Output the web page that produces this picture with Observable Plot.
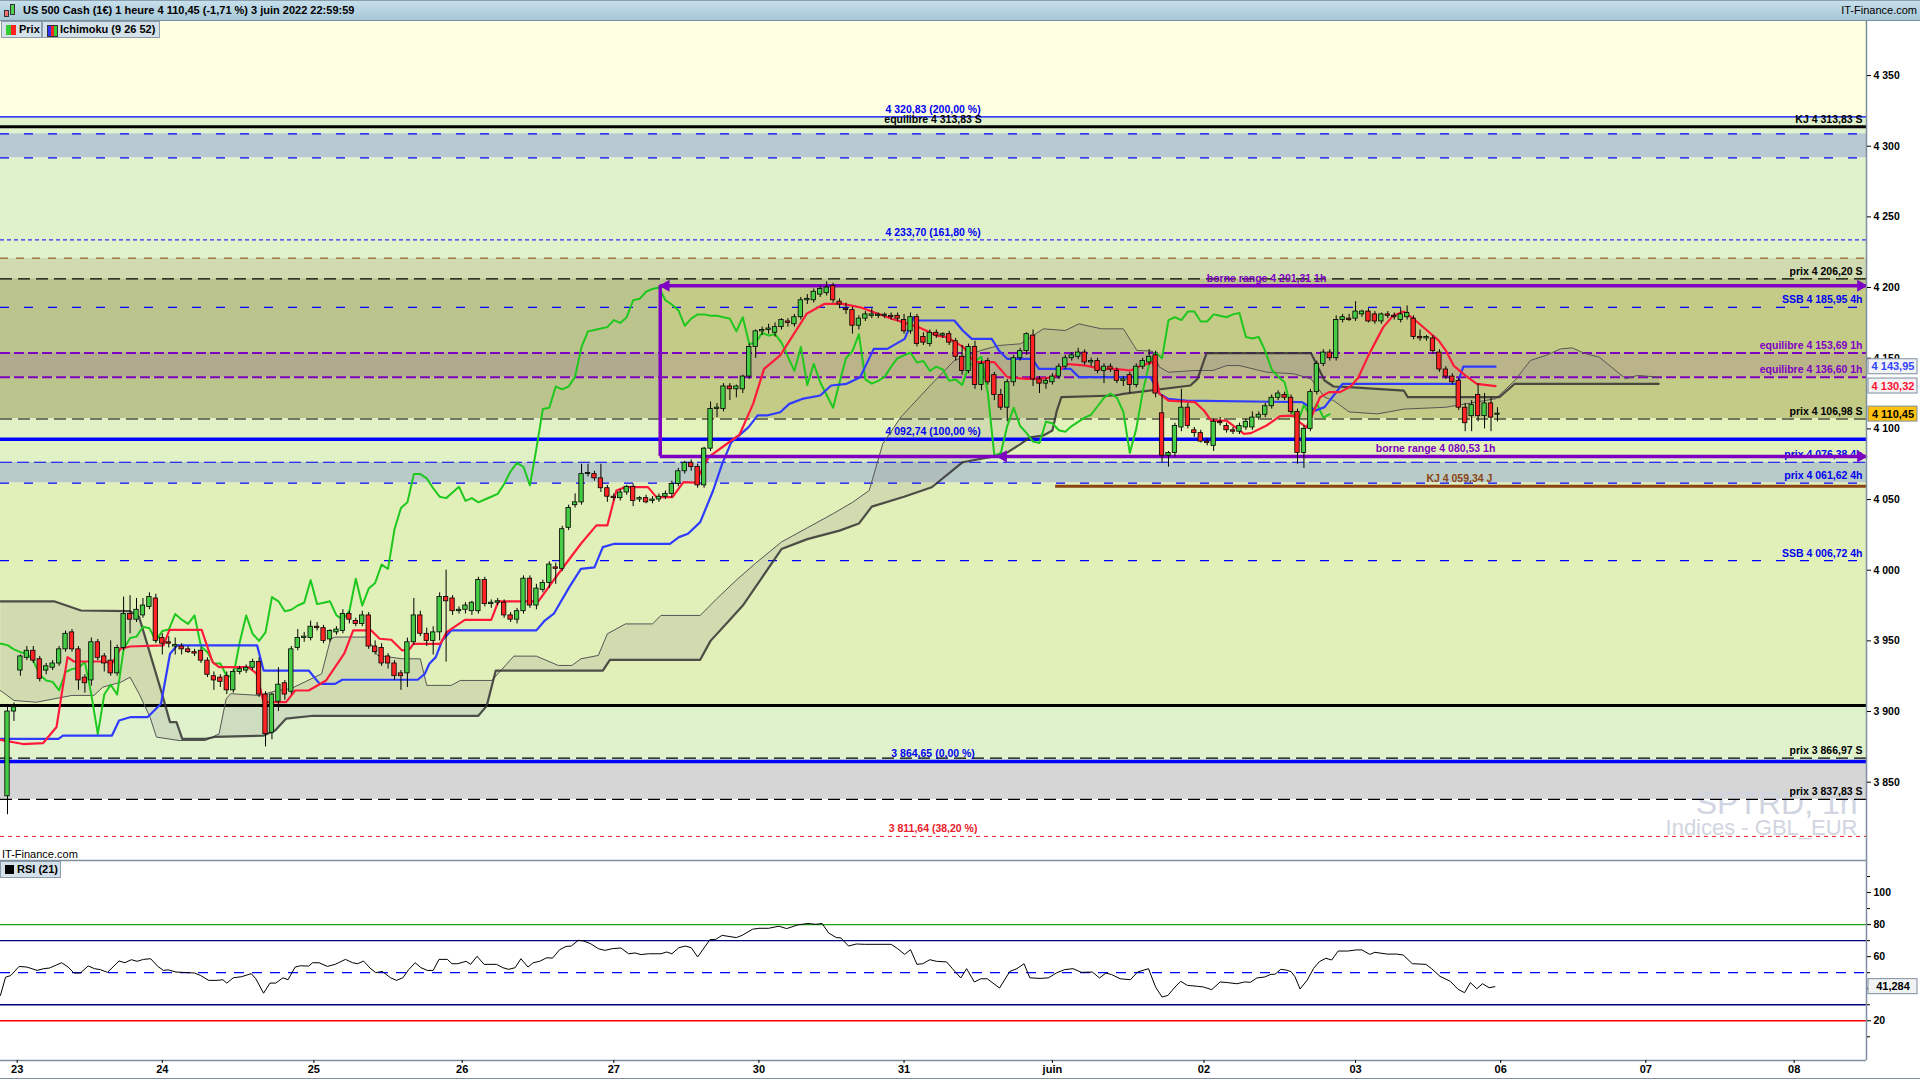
<!DOCTYPE html>
<html><head><meta charset="utf-8">
<script src="https://cdn.jsdelivr.net/npm/d3@7"></script>
<script src="https://cdn.jsdelivr.net/npm/@observablehq/plot@0.6"></script>
<style>
body{margin:0;width:1920px;height:1080px;position:relative;overflow:hidden;background:#fff;font-family:"Liberation Sans",Arial,sans-serif;}
#titlebar{position:absolute;left:0;top:0;width:1920px;height:21px;background:linear-gradient(#c6dfeb,#a7c7d7);border-bottom:1px solid #7a8f9e;border-top:1px solid #8aa0ae;box-sizing:border-box;}
#title{position:absolute;left:23px;top:3px;font:bold 11px "Liberation Sans",Arial,sans-serif;color:#000;white-space:nowrap;}
#brand{position:absolute;right:3px;top:3px;font:11px "Liberation Sans",Arial,sans-serif;color:#000;}
.ico{position:absolute;border:1px solid #333;box-sizing:border-box;}
.btn{position:absolute;height:17px;background:#d5e1ea;border:1px solid #8c9caa;box-sizing:border-box;font:bold 11px "Liberation Sans",Arial,sans-serif;line-height:15px;color:#000;white-space:nowrap;}
#main{position:absolute;left:0;top:20px;}
#rsi{position:absolute;left:0;top:860px;}
#itf{position:absolute;left:2px;top:848px;font:11px "Liberation Sans",Arial,sans-serif;color:#000;}
.hl{position:absolute;left:0;height:0;border-top:1px solid #7d8fa0;}
</style></head>
<body>
<div id="main"></div>
<div id="rsi"></div>
<div id="titlebar">
  <div class="ico" style="left:4px;top:9px;width:5px;height:7px;background:#f07070;"></div>
  <div class="ico" style="left:10px;top:3px;width:5px;height:11px;background:#50d050;"></div>
  <div id="title">US 500 Cash (1€) 1 heure 4 110,45 (-1,71 %) 3 juin 2022 22:59:59</div>
  <div id="brand">IT-Finance.com</div>
</div>
<div class="btn" style="left:1px;top:21px;width:41px;">
  <span style="position:absolute;left:4px;top:3px;width:5px;height:10px;background:#3c3;"></span>
  <span style="position:absolute;left:9px;top:3px;width:5px;height:10px;background:#f22;"></span>
  <span style="position:absolute;left:17px;top:0px;">Prix</span>
</div>
<div class="btn" style="left:42px;top:21px;width:118px;">
  <span style="position:absolute;left:4px;top:3px;width:3px;height:10px;background:#33f;border:1px solid #333;border-right:none"></span>
  <span style="position:absolute;left:8px;top:3px;width:3px;height:10px;background:#f22;border-top:1px solid #333;border-bottom:1px solid #333"></span>
  <span style="position:absolute;left:11px;top:3px;width:3px;height:10px;background:#3c3;border:1px solid #333;border-left:none"></span>
  <span style="position:absolute;left:17px;top:0px;">Ichimoku (9 26 52)</span>
</div>
<div id="itf">IT-Finance.com</div>
<div class="btn" style="left:0px;top:861px;width:61px;">
  <span style="position:absolute;left:4px;top:3px;width:9px;height:9px;background:#000;"></span>
  <span style="position:absolute;left:16px;top:0px;">RSI (21)</span>
</div>
<div class="hl" style="top:1078px;width:1920px;"></div>
<script>
// ---------- DATA ----------
// hourly candles: [open, high, low, close]
const candles = [
[3840,3905,3827,3900],[3900,3906,3893,3903],[3929,3940,3925,3939],[3938,3946,3936,3943],[3943,3946,3934,3936],
[3937,3939,3921,3923],[3929,3934,3926,3932],[3931,3936,3929,3934],[3934,3946,3932,3944],[3944,3957,3942,3955],
[3956,3958,3942,3944],[3944,3946,3915,3922],[3924,3926,3913,3920],[3922,3952,3918,3949],[3949,3951,3936,3938],
[3939,3941,3928,3934],[3936,3950,3925,3927],[3927,3947,3925,3945],[3945,3981,3943,3969],[3969,3982,3955,3965],
[3965,3980,3963,3972],[3968,3980,3966,3975],[3974,3984,3972,3981],[3980,3983,3948,3950],[3952,3955,3940,3948],
[3949,3953,3945,3948],[3946,3952,3940,3947],[3946,3948,3940,3944],[3944,3946,3941,3942],[3942,3944,3939,3941],
[3943,3945,3934,3936],[3936,3938,3924,3926],[3925,3928,3915,3922],[3924,3926,3917,3921],[3925,3928,3912,3915],
[3915,3930,3913,3928],[3928,3932,3926,3930],[3929,3933,3927,3931],[3931,3937,3929,3935],[3935,3938,3910,3912],
[3912,3914,3875,3884],[3885,3913,3880,3912],[3907,3931,3900,3919],[3920,3922,3908,3912],[3914,3946,3912,3944],
[3945,3958,3943,3952],[3952,3956,3949,3953],[3952,3964,3950,3960],[3960,3963,3957,3959],[3959,3961,3948,3950],
[3951,3958,3949,3957],[3956,3960,3954,3958],[3957,3972,3955,3969],[3969,3971,3962,3965],[3964,3966,3960,3962],
[3962,3971,3960,3968],[3968,3970,3944,3946],[3946,3950,3940,3942],[3945,3948,3932,3934],[3939,3941,3930,3934],
[3934,3936,3922,3925],[3927,3929,3915,3925],[3927,3952,3917,3949],[3949,3980,3947,3968],[3968,3971,3953,3955],
[3955,3959,3946,3950],[3950,3960,3940,3956],[3956,3984,3950,3981],[3981,4000,3935,3978],[3980,3982,3968,3971],
[3971,3974,3969,3972],[3972,3977,3969,3975],[3971,3978,3968,3977],[3971,3995,3969,3993],[3993,3995,3974,3976],
[3976,3979,3973,3977],[3977,3980,3975,3978],[3977,3979,3966,3968],[3968,3970,3963,3965],[3965,3973,3962,3971],
[3971,3996,3969,3994],[3994,3996,3973,3975],[3975,3990,3972,3987],[3986,3993,3984,3991],[3991,4006,3987,4004],
[4002,4005,3990,4001],[4001,4031,3999,4029],[4030,4046,4028,4044],[4046,4054,4044,4048],[4048,4075,4046,4068],
[4068,4075,4066,4068],[4068,4070,4063,4065],[4065,4075,4055,4058],[4058,4060,4048,4052],[4052,4054,4049,4051],
[4051,4057,4049,4055],[4055,4060,4053,4059],[4059,4061,4045,4049],[4050,4052,4048,4051],[4051,4053,4047,4048],
[4049,4052,4047,4050],[4050,4054,4048,4052],[4052,4056,4050,4054],[4054,4063,4051,4061],[4061,4072,4059,4070],
[4070,4077,4068,4076],[4076,4078,4070,4073],[4073,4075,4058,4060],[4060,4087,4058,4086],[4086,4119,4084,4114],
[4114,4118,4108,4115],[4114,4132,4112,4130],[4130,4132,4120,4128],[4128,4131,4122,4130],[4128,4138,4125,4137],
[4137,4160,4135,4158],[4158,4170,4150,4169],[4169,4172,4166,4170],[4170,4174,4167,4171],[4168,4175,4165,4172],
[4172,4178,4170,4177],[4176,4178,4172,4175],[4174,4181,4172,4179],[4179,4193,4177,4191],[4191,4195,4188,4192],
[4191,4199,4189,4197],[4195,4201,4193,4199],[4196,4204,4194,4200],[4201,4203,4189,4191],[4190,4192,4185,4188],
[4185,4189,4181,4184],[4184,4186,4167,4173],[4173,4180,4170,4178],[4178,4183,4176,4181],[4180,4185,4178,4181],
[4180,4182,4178,4180],[4180,4182,4178,4180],[4180,4182,4177,4179],[4180,4182,4176,4178],[4177,4181,4167,4169],
[4169,4182,4167,4179],[4179,4181,4158,4160],[4165,4168,4159,4161],[4160,4170,4158,4168],[4168,4170,4164,4166],
[4166,4168,4164,4167],[4167,4169,4159,4161],[4162,4164,4148,4151],[4151,4159,4138,4141],[4141,4160,4139,4158],
[4158,4162,4128,4131],[4131,4148,4127,4146],[4148,4150,4131,4133],[4138,4140,4120,4124],[4124,4128,4113,4115],
[4115,4135,4105,4133],[4133,4152,4130,4150],[4150,4157,4148,4155],[4155,4168,4152,4167],[4166,4170,4130,4135],
[4135,4137,4125,4132],[4132,4136,4128,4134],[4133,4139,4131,4137],[4137,4146,4135,4144],[4144,4152,4142,4150],
[4150,4154,4148,4152],[4151,4157,4149,4154],[4154,4156,4145,4147],[4147,4150,4144,4148],[4148,4150,4139,4141],
[4141,4146,4132,4144],[4144,4146,4140,4142],[4141,4143,4132,4134],[4134,4137,4130,4135],[4138,4140,4125,4131],
[4131,4146,4129,4144],[4144,4150,4142,4148],[4147,4156,4145,4151],[4152,4155,4122,4125],[4111,4124,4076,4081],
[4081,4084,4073,4083],[4083,4104,4080,4102],[4101,4128,4098,4115],[4115,4118,4100,4102],[4099,4101,4094,4097],
[4097,4099,4090,4091],[4091,4093,4088,4090],[4088,4107,4084,4105],[4105,4108,4102,4104],[4102,4104,4097,4099],
[4099,4101,4096,4098],[4098,4104,4096,4102],[4101,4107,4099,4105],[4101,4112,4099,4108],[4108,4112,4106,4110],
[4110,4118,4108,4116],[4116,4124,4114,4122],[4122,4127,4120,4125],[4124,4126,4120,4122],[4122,4124,4110,4112],
[4112,4114,4075,4083],[4083,4102,4072,4100],[4100,4128,4098,4126],[4126,4148,4124,4146],[4146,4156,4144,4154],
[4154,4156,4148,4150],[4150,4180,4148,4177],[4177,4181,4175,4179],[4178,4181,4176,4177],[4178,4190,4176,4183],
[4181,4184,4179,4183],[4183,4185,4175,4176],[4181,4183,4174,4176],[4176,4182,4174,4181],[4181,4183,4178,4180],
[4180,4182,4177,4179],[4177,4185,4175,4181],[4179,4187,4177,4182],[4178,4180,4163,4165],[4165,4170,4162,4164],
[4164,4166,4162,4165],[4164,4166,4153,4155],[4154,4156,4140,4142],[4142,4144,4135,4137],[4137,4139,4131,4133],
[4134,4136,4113,4115],[4115,4118,4098,4104],[4109,4120,4098,4117],[4124,4132,4105,4109],[4109,4125,4100,4118],
[4118,4122,4098,4108],[4110,4115,4105,4110.45]
];
// Ichimoku lines: [bar index, value]
const tenkan = [[-1.1,3880],[2.4,3877],[5.5,3877.6],[7.6,3889],[9.3,3938.5],[10.3,3935.4],[15.2,3935.4],[16.2,3933.8],[17.5,3944.4],[19,3946],[24.2,3946.8],[25.1,3957.8],[30.1,3957.8],[31.8,3935],[32.8,3931.4],[37.3,3931.4],[38.6,3927],[39.7,3906.7],[43.2,3906.7],[44.6,3914.9],[46.7,3914.9],[49.4,3922],[52.2,3940.9],[53.6,3957.4],[56.4,3957.4],[57.7,3951.5],[59.5,3950.8],[61.2,3943.2],[62.4,3944.4],[62.9,3947.9],[67.1,3947.9],[68.1,3956.2],[70.9,3964.9],[75,3964.9],[76.1,3977.9],[82.3,3977.9],[85.4,3997.5],[88.9,4018.7],[91.3,4031.7],[93,4031.7],[94.4,4056.4],[95.8,4058.8],[99.3,4058.8],[100.6,4051.7],[103.1,4051.7],[104.8,4062.3],[106.6,4062],[108.7,4080],[110.8,4087],[113.5,4096],[115.6,4117.7],[117.3,4142.5],[119.8,4152],[123.9,4181.4],[126.7,4188.5],[129.5,4188.5],[132.2,4186],[137.1,4177.9],[141.2,4172],[144,4166],[145.7,4164.9],[148.2,4157.8],[149.9,4147.2],[153,4147.2],[155,4136.6],[157.8,4135.4],[159.9,4135.4],[162.3,4136.6],[164,4146],[167.2,4144.8],[169.6,4142.5],[171.7,4142.5],[174.1,4141.3],[175.8,4144.8],[177.6,4147.2],[178.2,4134.2],[178.6,4124.8],[180,4120],[184.1,4118.9],[185.5,4113],[186.6,4105.9],[189,4105.9],[190.4,4101],[191.7,4096.5],[192.8,4097],[195.2,4102.4],[197.3,4109],[199.4,4109.4],[200,4105.9],[201.4,4101],[202.1,4108],[203.5,4122.4],[204.9,4126],[206.6,4126],[208.2,4130],[209.4,4136],[211,4152],[213.3,4172],[214.8,4180],[216.5,4183],[218.3,4176.7],[220.1,4169.6],[221.9,4162.5],[223,4155.4],[224.2,4144.8],[226,4137.8],[227.8,4131.9],[230.7,4130.3]];
const kijun = [[-1.1,3880.7],[7.9,3880.7],[8.6,3883],[16.2,3883],[17.3,3893.7],[19,3896],[21.7,3896],[23.8,3905.5],[25.2,3940.9],[26.3,3946.8],[38.7,3946.8],[39.7,3929],[46.7,3929],[48.4,3919.6],[50.8,3919.6],[51.9,3922.5],[63.6,3922.5],[64.7,3926.7],[65.4,3933.8],[66.4,3938.5],[67.4,3950.3],[68.8,3957.4],[82,3957.4],[83.3,3964.4],[84.7,3969.2],[87.1,3988],[88.9,4001],[91,4002],[92.3,4016.3],[94.1,4018.7],[102.7,4018.7],[104.1,4023.4],[105.5,4025.8],[107.4,4034],[109.4,4056.4],[110.8,4075.2],[112.2,4090.5],[114.9,4101.2],[116.3,4109.5],[117.7,4109.5],[119.8,4111.8],[121.2,4117.7],[123.2,4121.2],[126,4123.6],[127.7,4130.7],[130.1,4131.9],[132.2,4136.6],[134.3,4156.6],[136.4,4156.6],[139.1,4163.7],[140.5,4179],[141.2,4176.7],[146.8,4176.7],[148.1,4169.6],[149.5,4163.7],[152.6,4163.7],[153.7,4155.5],[155,4149.6],[158.9,4149.6],[159.9,4142.5],[164.8,4142.5],[166.1,4136.6],[177.2,4136.6],[178.6,4124.8],[180,4121.2],[182.7,4120],[200.7,4118.9],[202.8,4113],[204.2,4115.4],[205.6,4123.6],[207,4131.9],[224.8,4131.9],[225.7,4144],[230.7,4144]];
const ssb = [[-1.1,3978],[7.2,3978],[11.4,3971.5],[19,3971],[20.4,3967],[23.8,3915],[25.2,3892.5],[26.2,3892.5],[27.1,3880.7],[30.7,3880.7],[32.1,3882],[39.7,3883],[41.5,3886.6],[43.2,3895],[47.4,3897],[73,3897],[74.3,3904],[75.7,3929],[92.3,3929],[93.4,3936.6],[107.4,3936.6],[109,3950],[112,3965],[114,3975],[117,3995],[120,4015],[124,4022],[129,4028],[132,4033],[134,4045],[139,4052],[143.3,4058.7],[148.1,4076.4],[152.3,4080],[155.1,4083.5],[157.1,4089.4],[158.5,4094],[160.6,4095.3],[162,4098.8],[162.7,4113],[163.4,4122.4],[171.7,4123.6],[173,4124.8],[183.4,4130.7],[184.5,4135.4],[185.9,4153.6],[202.1,4153.6],[204.2,4134.2],[205.6,4130],[208,4129.5],[216.5,4127],[217.1,4122.4],[231.3,4122.4],[233.7,4131.9],[256,4131.9]];
const ssa = [[-1.1,3914.9],[1,3907.8],[4.5,3906.6],[10,3911.4],[13.4,3911.4],[14.8,3917.3],[17.6,3920.8],[19,3924.3],[20.4,3912.6],[22.1,3896],[23.1,3881.9],[26.6,3879.5],[30.7,3879.5],[32.8,3884.2],[33.9,3909],[34.6,3912.6],[39.1,3911.4],[41.8,3914.9],[43.9,3916.1],[48.7,3926.7],[50.1,3951.5],[50.8,3952.7],[55.7,3952.7],[57.4,3939.7],[61.2,3937.3],[64,3937.3],[65,3918.5],[68.8,3918.5],[70.2,3922],[75.1,3922],[78.5,3939.2],[82,3939.2],[85.4,3932.6],[87.5,3932.6],[88.9,3937.3],[91.6,3939.7],[93,3955],[95.8,3962],[100,3962],[101.3,3968],[107.4,3968],[110,3980],[113,3993],[116,4005],[120,4020],[124,4030],[128,4040],[131,4048],[133.6,4056.4],[135.7,4089.4],[138.5,4108.3],[143.3,4131.9],[146.8,4148.4],[150.9,4155.5],[153.7,4159],[157.1,4160.2],[160.6,4170.8],[164,4169.6],[166.1,4174.3],[169.6,4170.8],[173,4170.8],[175.1,4155.5],[177.5,4155],[178.6,4143.7],[180,4140.1],[184.1,4141.3],[186.9,4141.3],[189,4144.8],[191,4144.8],[195.2,4140.1],[199.4,4139],[202.1,4135.4],[204.2,4122.4],[205.6,4120],[208,4112],[212.4,4110.6],[216.5,4114],[223,4115.3],[230.7,4121.3],[233.7,4134.2],[236.1,4148.4],[238.5,4152],[240.8,4156.6],[242.6,4157.3],[244.4,4153.6],[246.8,4150.7],[250.9,4135.4],[252.7,4137.8],[256,4136.6]];
// RSI(21): [bar index, value]
const rsi = [[-1.1,35.8],[-0.3,47.2],[0.5,48.2],[1.8,53.9],[3,53.5],[4.6,51.4],[5.6,52.5],[6.5,52.9],[8.4,56.2],[9.4,53.5],[10.3,49.8],[11.3,49.8],[12.5,54.2],[13.5,52.5],[14.4,51.9],[15.5,50.2],[17.3,57.3],[18.2,56.2],[19.2,58.1],[20.1,57.1],[21.1,58.3],[22.2,58.7],[23.3,53.9],[24.2,51.4],[24.9,51.8],[26.1,50.4],[29,49.8],[29.9,48.3],[31.2,45.2],[32.5,45.2],[33.4,45.6],[34,43.5],[35,46.8],[36.3,47.5],[37.8,49.4],[38.5,46.2],[39.7,37.2],[40.7,43.5],[41.6,43.5],[42.7,46.8],[43.5,45.6],[44.6,53.5],[45.4,54.3],[46.7,54.1],[47.3,56.2],[48.3,56.2],[49.6,53.9],[50.8,55.2],[52.4,58.3],[53.5,56.2],[54.3,55.6],[55.2,57.3],[56.2,52.9],[57.1,50],[58.1,50.8],[59.4,46.8],[60.3,45.2],[61.3,46.8],[62.2,51.9],[63.2,56.2],[64.1,53.1],[65.1,51.4],[66,51.4],[66.9,58.3],[68.2,58.3],[68.9,55.6],[69.8,55.6],[71.1,57.1],[71.8,55.2],[72.8,60.2],[73.9,55.2],[75.8,55.2],[76.8,53.1],[77.7,52.1],[78.7,53.1],[79.6,58.7],[80.7,53.5],[81.5,56.2],[82.5,57.1],[83.6,59.3],[84.5,59.1],[85.6,64.3],[86.6,66.4],[87.4,66.6],[88.5,70.2],[89.3,69.8],[90.4,68.1],[91.6,65],[92.6,63.9],[93.8,65],[95.1,65.4],[96.3,61.8],[97.3,62.3],[98.2,61.3],[99.4,61.8],[101.3,61.8],[102.2,62.9],[103,61.8],[104.1,65.6],[105.1,66.6],[106,65.6],[107,59.8],[108.9,70.6],[109.8,70.8],[110.8,73.3],[111.7,72.7],[113,71.9],[113.9,73.3],[115.5,77.1],[116.5,77.7],[118,77.7],[119.6,79],[120.8,77.5],[122.5,79.8],[124.1,80.7],[125.3,80.2],[126.3,80.7],[127.3,74.8],[128.5,71.9],[129.2,71.7],[130.4,66.6],[131.6,67.9],[132.9,67.7],[137,67.7],[138,65],[139.1,61.4],[140,64.4],[141,55.2],[141.9,55.6],[143,58.1],[144,57.1],[145.6,56.7],[146.5,52.5],[147.8,46.7],[148.7,52.5],[149.9,44.2],[150.9,46.2],[151.9,46.2],[153.8,40.4],[155.4,50.8],[156.5,52.5],[157.6,55.6],[158.5,46.8],[160.1,46.4],[161.4,46.8],[162.7,50],[163.9,51.9],[165.2,52.5],[166.5,50.2],[168.2,50.4],[169.3,46.7],[170.3,49.8],[171.2,48.8],[172.5,46.2],[174.1,45.6],[175.2,50.4],[176.9,52.5],[178,41],[179,34.8],[179.9,35.8],[181,41],[181.9,44.6],[182.9,42.1],[184.5,41.5],[185.4,41.1],[186.7,39.4],[188,44.2],[189.2,43.8],[190.6,43.1],[191.8,44.2],[192.7,44],[193.7,46.7],[194.9,47.3],[195.9,49],[196.5,49],[197.4,52.1],[198.3,51.6],[199,50.6],[199.6,47.5],[200.4,39.8],[201.5,45.4],[202.5,52.7],[203.4,56.9],[204.4,59],[205.3,57.9],[206.3,63.5],[207.8,63.5],[209.1,64.2],[210,64.2],[211.2,61.4],[212,62.7],[213.9,61.6],[215.4,61.6],[216.4,61],[217.8,55.6],[219.9,55.2],[220.8,52.5],[222.1,47.7],[223.7,44.6],[224.9,39.6],[225.9,37.5],[226.8,43.8],[227.8,40],[228.7,43.1],[229.7,40.6],[230.6,41.284]];
const rsiLevels = [[80,"ob"],[70,"hi"],[50,"mid"],[30,"lo"],[20,"os"]];
const rsiTicks = [20,60,80,100];
const rsiMinorTicks = [10,30,40,50,70,90,110];
// day ticks: [bar index, label]
const dayTicks = [[1.5,"23"],[24,"24"],[47.5,"25"],[70.5,"26"],[94,"27"],[116.5,"30"],[139,"31"],[162,"juin"],[185.5,"02"],[209,"03"],[231.5,"06"],[254,"07"],[277,"08"]];
const priceTicks = [3850,3900,3950,4000,4050,4100,4150,4200,4250,4300,4350];
// horizontal levels
const levels = [
 {v:4320.83,kind:"fibo"},{v:4313.83,kind:"eqS"},{v:4308.8,kind:"b4h"},{v:4291.8,kind:"b4h"},
 {v:4233.70,kind:"fiboDash"},{v:4220.8,kind:"brownDash"},{v:4206.20,kind:"prixS"},{v:4185.95,kind:"b4h"},
 {v:4153.69,kind:"eq1h"},{v:4136.60,kind:"eq1h"},{v:4106.98,kind:"prixS"},{v:4092.74,kind:"fiboThick"},
 {v:4076.38,kind:"p4h"},{v:4061.62,kind:"b4h"},{v:4006.72,kind:"b4h"},{v:3904.3,kind:"black"},
 {v:3866.97,kind:"prixS"},{v:3864.65,kind:"fiboThick"},{v:3837.83,kind:"prixS"},{v:3811.64,kind:"fiboRed"}
];
const zones = [
 {top:4400,bottom:4320.83,kind:"cream"},{top:4320.83,bottom:4308.8,kind:"mint"},{top:4308.8,bottom:4291.8,kind:"slate"},
 {top:4291.8,bottom:4220.8,kind:"mint"},{top:4220.8,bottom:4206.2,kind:"sage"},{top:4206.2,bottom:4106.98,kind:"olive"},
 {top:4153.69,bottom:4136.6,kind:"taupe"},{top:4106.98,bottom:4076.38,kind:"pale"},{top:4076.38,bottom:4061.62,kind:"slate2"},
 {top:4061.62,bottom:3904.3,kind:"lime"},{top:3904.3,bottom:3864.65,kind:"mint"},{top:3864.65,bottom:3837.83,kind:"grey"}
];
const rightLabels = [
 {v:4313.83,text:"KJ 4 313,83 S",kind:"black"},{v:4206.20,text:"prix 4 206,20 S",kind:"black"},
 {v:4185.95,text:"SSB 4 185,95 4h",kind:"blue"},{v:4153.69,text:"equilibre 4 153,69 1h",kind:"purple"},
 {v:4136.60,text:"equilibre 4 136,60 1h",kind:"purple"},{v:4106.98,text:"prix 4 106,98 S",kind:"black"},
 {v:4076.38,text:"prix 4 076,38 4h",kind:"blue"},{v:4061.62,text:"prix 4 061,62 4h",kind:"blue"},
 {v:4006.72,text:"SSB 4 006,72 4h",kind:"blue"},{v:3866.97,text:"prix 3 866,97 S",kind:"black"},
 {v:3837.83,text:"prix 3 837,83 S",kind:"black"}
];
const fiboLabels = [
 {v:4320.83,text:"4 320,83 (200,00 %)",kind:"blue"},{v:4313.83,text:"equilibre 4 313,83 S",kind:"black"},
 {v:4233.70,text:"4 233,70 (161,80 %)",kind:"blue"},{v:4092.74,text:"4 092,74 (100,00 %)",kind:"blue"},
 {v:3864.65,text:"3 864,65 (0,00 %)",kind:"blue"},{v:3811.64,text:"3 811,64 (38,20 %)",kind:"red"}
];
const range = {top:4201.31, bottom:4080.53, start:101.2, arrowStart:154.4};
const rangeLabels = [
 {v:4201.31,x:195.2,text:"borne range 4 201,31 1h",kind:"purple"},
 {v:4080.53,x:221.4,text:"borne range 4 080,53 1h",kind:"purple"},
 {v:4059.34,x:225.1,text:"KJ 4 059,34 J",kind:"brown"}
];
const kjDaily = {v:4059.34, start:162.5};
const lastValues = [{v:4143.95,text:"4 143,95",kind:"kijun"},{v:4130.32,text:"4 130,32",kind:"tenkan"},{v:4110.45,text:"4 110,45",kind:"close"}];
const rsiLast = {v:41.284,text:"41,284"};

// ---------- RENDER ----------
const X0 = -7/6.45, X1 = 1859/6.45;
const Y0 = 3850 - 78.3/1.4133, Y1 = 3850 + 761.7/1.4133;
const PX = 1/6.45, PY = 1/1.4133;
const FONT = '"Liberation Sans", Arial, sans-serif';
const colors = {black:"#000",blue:"#0000f0",purple:"#7e00c2",red:"#e8202a",brown:"#8b4513"};
const zoneColor = {cream:"#ffffe1",mint:"#dff2cc",slate:"#b9c9d1",sage:"#d1dbb1",olive:"#bcc48d",taupe:"#b2aa8f",pale:"#e0f1c6",slate2:"#b9cbc7",lime:"#e1f0b9",grey:"#d6d6d6"};
const ruleStyle = {
 fibo:{stroke:"#0000ff",strokeWidth:1.2}, eqS:{stroke:"#000",strokeWidth:3},
 b4h:{stroke:"#0000ff",strokeWidth:1.2,strokeDasharray:"9,15"}, p4h:{stroke:"#0000ff",strokeWidth:1.2,strokeDasharray:"12,5"},
 fiboDash:{stroke:"#0000ff",strokeWidth:1,strokeDasharray:"4,3"}, brownDash:{stroke:"#8b4513",strokeWidth:1,strokeDasharray:"8,8"},
 prixS:{stroke:"#000",strokeWidth:1.2,strokeDasharray:"12,6"}, eq1h:{stroke:"#8000c0",strokeWidth:2,strokeDasharray:"10,4"},
 fiboThick:{stroke:"#0000ff",strokeWidth:3.5}, black:{stroke:"#000",strokeWidth:3},
 fiboRed:{stroke:"#ee2222",strokeWidth:1,strokeDasharray:"4,4"}
};
const fmtTick = v => String(v).replace(/\B(?=(\d{3})+(?!\d))/g, " ");
const bars = candles.map((d,i)=>({i,o:d[0],h:d[1],l:d[2],c:d[3]}));
const chikou = bars.map(b=>({i:b.i-26,v:b.c}));
const cloud = [...ssa, ...ssb.slice().reverse()];
const P = ([i,v])=>({i,v});

const main = Plot.plot({
  width:1920, height:840, marginLeft:0, marginRight:54, marginTop:0, marginBottom:0,
  x:{domain:[X0,X1], axis:null, label:null}, y:{domain:[Y0,Y1], axis:null, label:null},
  color:{type:"identity"},
  style:{fontFamily:FONT, fontSize:"11px", background:"transparent", overflow:"visible"},
  marks:[
    ...Object.keys(zoneColor).map(k => Plot.rect(zones.filter(z=>z.kind===k), {x1:X0, x2:X1, y1:"top", y2:"bottom", fill:zoneColor[k], clip:true})),
    Plot.rect([range], {x1:"start", x2:X1, y1:"bottom", y2:"top", fill:"#ffff60", fillOpacity:0.12}),
    Plot.text(["SPTRD, 1h"], {frameAnchor:"bottom-right", text:d=>d, dx:-9, dy:-47, textAnchor:"end", lineAnchor:"bottom", fontSize:32, fill:"#d1d5e1"}),
    Plot.text(["Indices - GBL_EUR"], {frameAnchor:"bottom-right", text:d=>d, dx:-9, dy:-26, textAnchor:"end", lineAnchor:"bottom", fontSize:22, fill:"#d1d5e1"}),
    Plot.line(cloud, {x:d=>d[0], y:d=>d[1], fill:"#8a8a8a", fillOpacity:0.2, stroke:"none", clip:true}),
    ...Object.keys(ruleStyle).map(k => Plot.ruleY(levels.filter(l=>l.kind===k), {y:"v", ...ruleStyle[k]})),
    Plot.ruleY([kjDaily], {y:"v", x1:"start", x2:X1, stroke:"#8b4513", strokeWidth:3}),
    Plot.text(rightLabels, {y:"v", text:"text", frameAnchor:"right", dx:-4, dy:-4, textAnchor:"end", lineAnchor:"bottom", fill:d=>colors[d.kind], fontWeight:"bold", fontSize:10.5}),
    Plot.text(fiboLabels, {x:143.5, y:"v", text:"text", dy:-4, lineAnchor:"bottom", fill:d=>colors[d.kind], fontWeight:"bold", fontSize:10.5}),
    Plot.text(rangeLabels, {x:"x", y:"v", text:"text", dy:-4, lineAnchor:"bottom", fill:d=>colors[d.kind], fontWeight:"bold", fontSize:10.5}),
    // ichimoku
    Plot.line(ssa.map(P), {x:"i", y:"v", stroke:"#555", strokeWidth:1, clip:true}),
    Plot.line(ssb.map(P), {x:"i", y:"v", stroke:"#333", strokeWidth:2.2, strokeOpacity:0.85, clip:true}),
    Plot.line(chikou, {x:"i", y:"v", stroke:"#1ec81e", strokeWidth:2, clip:true}),
    Plot.line(kijun.map(P), {x:"i", y:"v", stroke:"#2f3cff", strokeWidth:2.2, clip:true}),
    Plot.line(tenkan.map(P), {x:"i", y:"v", stroke:"#ff1a3c", strokeWidth:2.2, clip:true}),
    // range box
    Plot.ruleY([range.top, range.bottom], {y:d=>d, x1:range.start, x2:X1, stroke:"#7e00c2", strokeWidth:3.5}),
    Plot.ruleX([range], {x:"start", y1:"bottom", y2:"top", stroke:"#7e00c2", strokeWidth:3.5}),
    Plot.dot([{x:X1-0.9,y:range.top,r:90},{x:X1-0.9,y:range.bottom,r:90},{x:range.start+0.9,y:range.top,r:-90},{x:range.arrowStart,y:range.bottom,r:-90}],
      {x:"x", y:"y", rotate:"r", symbol:"triangle", r:4.5, fill:"#7e00c2", stroke:"none"}),
    // candles
    Plot.ruleX(bars, {x:"i", y1:"l", y2:"h", stroke:"#000", strokeWidth:1}),
    Plot.rect(bars, {x1:d=>d.i-0.34, x2:d=>d.i+0.34, y1:"o", y2:d=>Math.abs(d.c-d.o)<0.6?d.o+0.8:d.c, fill:d=>d.c>=d.o?"#44cc44":"#ff2424", stroke:"#000", strokeWidth:0.8}),
    // right axis
    Plot.ruleX([X1], {stroke:"#7d8fa0", strokeWidth:1.5}),
    Plot.axisY({anchor:"right", label:null, ticks:priceTicks, tickFormat:fmtTick, tickSize:4, tickPadding:3, fontWeight:"bold", fontSize:10.5}),
    Plot.rect(lastValues, {x1:X1+2*PX, x2:X1+51*PX, y1:d=>d.v-7.5*PY, y2:d=>d.v+7.5*PY, fill:d=>d.kind==="close"?"#ffc20e":"#f1f2f4", stroke:"#7d8fa0", strokeWidth:1}),
    Plot.text(lastValues, {x:X1+26.5*PX, y:"v", text:"text", fill:d=>d.kind==="kijun"?"#3344ff":d.kind==="tenkan"?"#ff1030":"#000", fontWeight:"bold", fontSize:11})
  ]
});
document.getElementById("main").appendChild(main);

const rsiStyle = {ob:{stroke:"#1aa01a",strokeWidth:1.3},hi:{stroke:"#00007f",strokeWidth:1.3},mid:{stroke:"#0000ff",strokeWidth:1.3,strokeDasharray:"10,8"},lo:{stroke:"#00007f",strokeWidth:1.3},os:{stroke:"#ff0000",strokeWidth:1.3}};
const dayMap = new Map(dayTicks);
const rsiPlot = Plot.plot({
  width:1920, height:220, marginLeft:0, marginRight:54, marginTop:0, marginBottom:20,
  x:{domain:[X0,X1], axis:null, label:null}, y:{domain:[-4.8,120], axis:null, label:null},
  color:{type:"identity"},
  style:{fontFamily:FONT, fontSize:"11px", background:"transparent", overflow:"visible"},
  marks:[
    ...rsiLevels.map(([v,k]) => Plot.ruleY([v], {...rsiStyle[k]})),
    Plot.line(rsi.map(P), {x:"i", y:"v", stroke:"#000", strokeWidth:1, clip:true}),
    Plot.ruleY([120, -4.8], {stroke:"#7d8fa0", strokeWidth:1.5}),
    Plot.ruleX([X1], {stroke:"#7d8fa0", strokeWidth:1.5}),
    Plot.axisY({anchor:"right", label:null, ticks:rsiTicks, tickSize:4, tickPadding:3, fontWeight:"bold", fontSize:10.5}),
    Plot.axisY({anchor:"right", label:null, ticks:rsiMinorTicks, tickSize:3, tickFormat:()=>""}),
    Plot.rect([rsiLast], {x1:X1+2*PX, x2:X1+51*PX, y1:d=>d.v-7.5/1.6, y2:d=>d.v+7.5/1.6, fill:"#f1f2f4", stroke:"#7d8fa0", strokeWidth:1}),
    Plot.text([rsiLast], {x:X1+26.5*PX, y:"v", text:"text", fill:"#000", fontWeight:"bold", fontSize:11}),
    Plot.axisX({anchor:"bottom", label:null, ticks:dayTicks.map(d=>d[0]), tickFormat:v=>dayMap.get(v), tickSize:3, tickPadding:2, fontWeight:"bold", fontSize:11})
  ]
});
document.getElementById("rsi").appendChild(rsiPlot);
</script>
</body></html>
